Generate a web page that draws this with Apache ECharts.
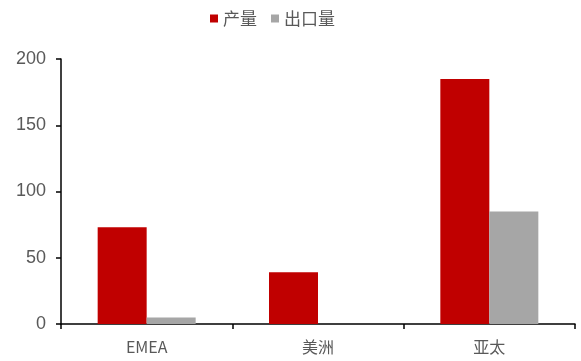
<!DOCTYPE html>
<html><head><meta charset="utf-8">
<script src="https://cdn.jsdelivr.net/npm/echarts@6/dist/echarts.min.js"></script>
<style>html,body{margin:0;padding:0;background:#fff}#c{width:581px;height:361px}</style>
</head><body><div id="c"></div>
<script>
var categories = ['EMEA', '美洲', '亚太'];
var production = [73, 39, 185];
var exports = [5, 0, 85];
var seriesNames = ['产量', '出口量'];

var chart = echarts.init(document.getElementById('c'), null, {renderer: 'canvas'});
chart.setOption({
  animation: false,
  legend: {
    top: 5, left: 205,
    itemWidth: 8, itemHeight: 8, itemGap: 14,
    icon: 'rect',
    textStyle: {fontFamily: 'Noto Sans CJK SC', fontSize: 17, color: '#595959'},
    data: seriesNames
  },
  grid: {left: 61, right: 6, top: 59, bottom: 37, containLabel: false},
  xAxis: {
    type: 'category', data: categories,
    axisLine: {lineStyle: {color: '#000', width: 1.5}},
    axisTick: {show: true, length: 5, lineStyle: {color: '#000', width: 1.5}},
    axisLabel: {margin: 15, color: '#595959', fontSize: 16, fontFamily: 'Noto Sans CJK SC'}
  },
  yAxis: {
    type: 'value', min: 0, max: 200, interval: 50,
    splitLine: {show: false},
    axisLine: {show: true, lineStyle: {color: '#000', width: 1.5}},
    axisTick: {show: true, length: 5, lineStyle: {color: '#000', width: 1.5}},
    axisLabel: {margin: 15, color: '#595959', fontSize: 18, fontFamily: 'Liberation Sans'}
  },
  series: [
    {name: seriesNames[0], type: 'bar', data: production, barWidth: 49, barGap: '0%',
     itemStyle: {color: '#C00000'}},
    {name: seriesNames[1], type: 'bar', data: exports, barWidth: 49, barGap: '0%',
     itemStyle: {color: '#A6A6A6'}}
  ]
});
</script></body></html>
